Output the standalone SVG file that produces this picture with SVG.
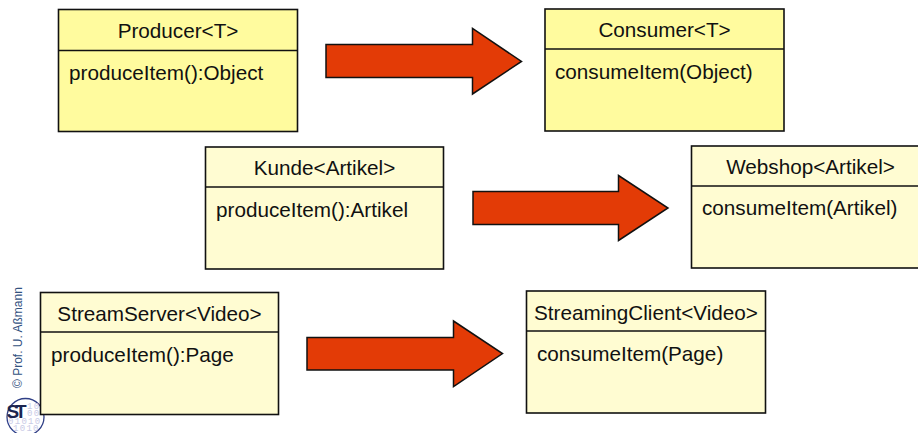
<svg xmlns="http://www.w3.org/2000/svg" width="918" height="433" viewBox="0 0 918 433">
<style>
.box{stroke:#111;stroke-width:1.6}
.a{fill:#fffb9e}.b{fill:#fffcd2}
.arrow{fill:#e33b06;stroke:#111;stroke-width:1.5;stroke-linejoin:miter}
text{font-family:"Liberation Sans",Arial,sans-serif;fill:#111;font-size:20.700px}
.t{text-anchor:middle}
.bin{font-size:9px;fill:#c9cbe6;font-family:"Liberation Mono",monospace;letter-spacing:1.300px}
.st{font-size:19px;font-weight:bold;fill:#1c2550}
</style>
<rect width="918" height="433" fill="#fff"/>
<g id="connectors">
<path class="arrow" d="M326 44.500H472.500V28.500L521.500 61.500L472.500 94V77.500H326Z"/>
<path class="arrow" d="M473 191.500H618.500V175.500L668 208L618.500 240.500V224.500H473Z"/>
<path class="arrow" d="M307 337.500H453.500V321L502.500 353.500L453.500 386.500V370H307Z"/>
</g>
<g id="producer">
<rect class="box a" x="58.500" y="9.500" width="239" height="122"/><path class="box" d="M58.500 50.500H297.500"/>
<text class="t" x="178" y="38">Producer&lt;T&gt;</text><text x="69" y="80">produceItem():Object</text>
</g>
<g id="consumer">
<rect class="box a" x="545" y="9" width="239" height="122"/><path class="box" d="M545 49H784"/>
<text class="t" x="664.500" y="37">Consumer&lt;T&gt;</text><text x="555" y="79">consumeItem(Object)</text>
</g>
<g id="kunde">
<rect class="box b" x="205.500" y="147" width="238" height="122"/><path class="box" d="M205.500 187H443.500"/>
<text class="t" x="324.500" y="175">Kunde&lt;Artikel&gt;</text><text x="216" y="217">produceItem():Artikel</text>
</g>
<g id="webshop">
<rect class="box b" x="691.500" y="146" width="239" height="122"/><path class="box" d="M691.500 186H930"/>
<text class="t" x="810.500" y="174">Webshop&lt;Artikel&gt;</text><text x="702" y="215">consumeItem(Artikel)</text>
</g>
<g id="copyright">
<text transform="translate(21.500 388) rotate(-90)" style="font-size:12px;fill:#33527f">© Prof. U. Aßmann</text>
</g>
<g id="logo">
<circle cx="25.500" cy="417" r="18.500" fill="#fff" stroke="#2f3f86" stroke-width="1.300"/>
<text class="bin" x="27" y="409">10</text><text class="bin" x="27" y="416">00</text><text class="bin" x="8" y="424">01010</text><text class="bin" x="13" y="431">1010</text>
<text class="st" x="6.500" y="418">S</text><text class="st" x="15" y="418">T</text>
</g>
<g id="streamserver">
<rect class="box b" x="40.500" y="292.500" width="238" height="122"/><path class="box" d="M40.500 332H278.500"/>
<text class="t" x="159.500" y="321">StreamServer&lt;Video&gt;</text><text x="51" y="362">produceItem():Page</text>
</g>
<g id="streamingclient">
<rect class="box b" x="526.500" y="291" width="239" height="122"/><path class="box" d="M526.500 331H765.500"/>
<text class="t" x="646" y="320">StreamingClient&lt;Video&gt;</text><text x="537" y="361">consumeItem(Page)</text>
</g>
</svg>
